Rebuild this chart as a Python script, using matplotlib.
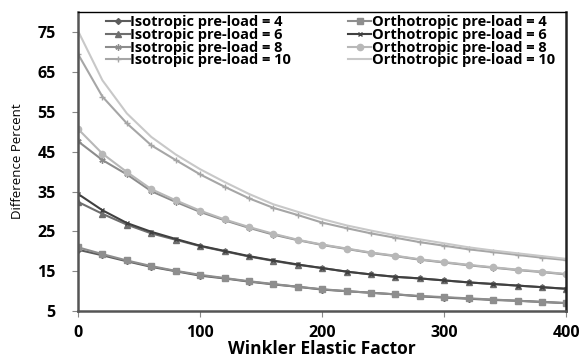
import matplotlib
matplotlib.use('Agg')
import matplotlib.pyplot as plt

winkler = list(range(0, 401, 20))

iso_4 = [20.4, 19.0, 17.5, 16.1, 15.0, 13.9, 13.2, 12.4, 11.7, 11.1, 10.4,
         10.0, 9.6, 9.2, 8.7, 8.4, 8.1, 7.8, 7.6, 7.3, 7.0]
ortho_4 = [21.0, 19.3, 17.7, 16.3, 15.1, 14.1, 13.3, 12.5, 11.8, 11.1, 10.5,
           10.0, 9.6, 9.2, 8.8, 8.5, 8.2, 7.9, 7.6, 7.3, 7.0]
iso_6 = [32.4, 29.4, 26.7, 24.5, 22.9, 21.3, 20.0, 18.7, 17.6, 16.6, 15.8,
         14.9, 14.2, 13.6, 13.2, 12.7, 12.2, 11.8, 11.4, 11.0, 10.6]
ortho_6 = [34.4, 30.3, 27.1, 24.9, 23.1, 21.4, 20.1, 18.8, 17.7, 16.7, 15.8,
           14.9, 14.2, 13.6, 13.2, 12.7, 12.2, 11.8, 11.4, 11.0, 10.6]
iso_8 = [47.6, 42.9, 39.3, 35.1, 32.4, 29.9, 27.8, 25.9, 24.2, 22.8, 21.6,
         20.6, 19.6, 18.8, 17.9, 17.2, 16.5, 15.9, 15.3, 14.8, 14.2]
ortho_8 = [50.7, 44.5, 39.9, 35.6, 32.8, 30.2, 28.0, 26.1, 24.4, 22.9, 21.7,
           20.7, 19.7, 18.9, 18.0, 17.3, 16.6, 16.0, 15.4, 14.9, 14.3]
iso_10 = [69.5, 58.8, 52.1, 46.6, 42.9, 39.3, 36.2, 33.3, 30.9, 29.1, 27.2,
          25.8, 24.5, 23.4, 22.3, 21.4, 20.5, 19.8, 19.1, 18.4, 17.8]
ortho_10 = [75.3, 62.9, 54.6, 48.7, 44.3, 40.6, 37.4, 34.4, 31.8, 29.9, 28.1,
            26.5, 25.2, 24.0, 23.0, 22.0, 21.0, 20.2, 19.5, 18.8, 18.1]

series = [
    ('Isotropic pre-load = 4', iso_4, '#5c5c5c', 'D', 3),
    ('Isotropic pre-load = 6', iso_6, '#6e6e6e', '^', 4),
    ('Isotropic pre-load = 8', iso_8, '#8c8c8c', (6, 2, 0), 4.5),
    ('Isotropic pre-load = 10', iso_10, '#a6a6a6', '+', 4.5),
    ('Orthotropic pre-load = 4', ortho_4, '#8e8e8e', 's', 4),
    ('Orthotropic pre-load = 6', ortho_6, '#404040', 'x', 3.5),
    ('Orthotropic pre-load = 8', ortho_8, '#b8b8b8', 'o', 4.5),
    ('Orthotropic pre-load = 10', ortho_10, '#c8c8c8', None, 0),
]

fig = plt.figure(figsize=(5.8, 3.58), dpi=100)
ax = fig.add_axes([0.1345, 0.131, 0.842, 0.835])

handles = []
for label, vals, color, marker, ms in series:
    h, = ax.plot(winkler, vals, color=color, lw=1.5, marker=marker,
                 markersize=ms, markeredgewidth=1.0, label=label)
    handles.append(h)

ax.set_xlim(0, 400)
ax.set_ylim(5, 80)
ax.set_xticks([0, 100, 200, 300, 400])
ax.set_yticks([5, 15, 25, 35, 45, 55, 65, 75])
ax.tick_params(axis='both', direction='out', length=4, color='#888888',
               labelsize=11.5)
for lbl in ax.get_xticklabels() + ax.get_yticklabels():
    lbl.set_fontweight('bold')
    lbl.set_fontfamily('Open Sans')
ax.tick_params(axis='y', pad=12)
ax.tick_params(axis='x', pad=6)

for side in ['left', 'bottom']:
    ax.spines[side].set_color('#555555')
    ax.spines[side].set_linewidth(1.8)
ax.spines['top'].set_color('black')
ax.spines['top'].set_linewidth(1.0)
ax.spines['right'].set_color('#222222')
ax.spines['right'].set_linewidth(1.8)

ax.set_xlabel('Winkler Elastic Factor', fontsize=12.5, fontweight='bold',
              family='Open Sans')
ax.xaxis.set_label_coords(0.5, -0.097)
ax.set_ylabel('Difference Percent', fontsize=9.5, family='Open Sans')
ax.yaxis.set_label_coords(-0.11, 0.5)

ax.legend(handles=handles, ncol=2, loc='upper left',
          bbox_to_anchor=(0.04, 1.02), frameon=False,
          prop={'family': 'Open Sans', 'weight': 'bold', 'size': 10.5},
          handlelength=1.6, handletextpad=0.05, labelspacing=-0.08,
          columnspacing=3.9, borderaxespad=0.2)

fig.savefig('out.png', dpi=100)
